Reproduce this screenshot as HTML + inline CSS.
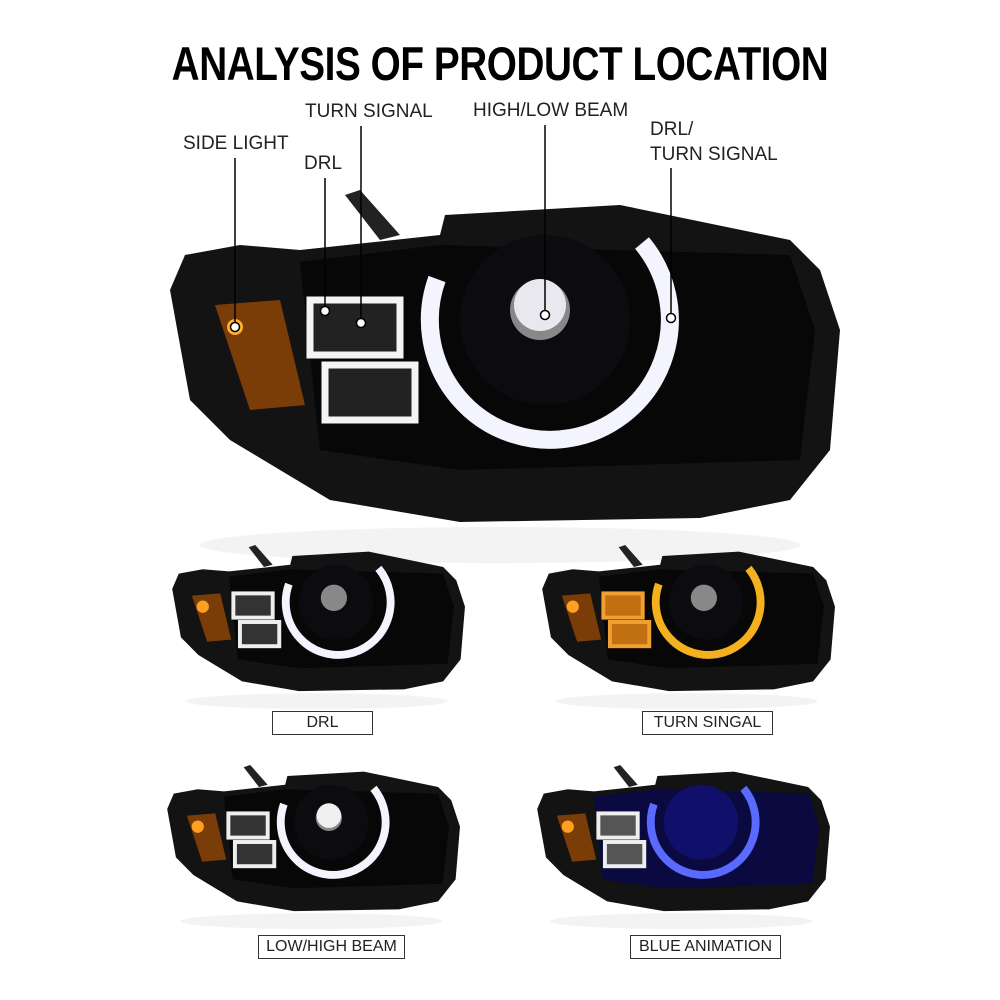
<!DOCTYPE html>
<html><head><meta charset="utf-8"><style>
html,body{margin:0;padding:0;background:#fff;}
body{width:1000px;height:1000px;position:relative;overflow:hidden;font-family:"Liberation Sans",sans-serif;}
.t{position:absolute;white-space:nowrap;}
.lab{position:absolute;font-size:19px;color:#222;white-space:nowrap;letter-spacing:0;}
.box{position:absolute;border:1px solid #333;font-size:16px;color:#222;text-align:center;line-height:22px;height:22px;background:#fff;}
</style></head><body>
<div class="t" style="left:0;width:1000px;text-align:center;top:38px;font-size:45px;font-weight:bold;color:#000;letter-spacing:-0.5px;transform:scale(0.86,1.05)">ANALYSIS OF PRODUCT LOCATION</div>
<div class="lab" style="left:183px;top:133px">SIDE LIGHT</div>
<div class="lab" style="left:305px;top:101px">TURN SIGNAL</div>
<div class="lab" style="left:304px;top:153px">DRL</div>
<div class="lab" style="left:473px;top:100px">HIGH/LOW BEAM</div>
<div class="lab" style="left:650px;top:117px;line-height:25px">DRL/<br>TURN SIGNAL</div>

<svg width="1000" height="1000" style="position:absolute;left:0;top:0">
<defs>
<g id="hl">
<ellipse cx="500" cy="545" rx="300" ry="18" fill="#f3f3f3"/>
<path d="M345,195 L360,190 L400,235 L380,240 Z" fill="#222"/>
<path d="M170,290 L185,255 L240,245 L300,250 L440,235 L445,215 L620,205 L790,240 L820,270 L840,330 L830,450 L790,500 L700,518 L460,522 L330,500 L280,470 L230,440 L190,400 Z" fill="#131313"/>
<path d="M300,262 L440,245 L790,255 L815,330 L800,460 L460,470 L320,450 Z" fill="#070707"/>
<path d="M215,305 L280,300 L305,405 L250,410 Z" fill="#7a3d08"/>
<circle cx="545" cy="320" r="85" fill="#0c0c10"/>
<circle cx="540" cy="310" r="30" fill="#888"/>
</g>
</defs>

<use href="#hl"/>
<circle cx="540" cy="305" r="26" fill="#e8e8ee"/>
<path d="M642,243 A120,120 0 1 1 437,279" fill="none" stroke="#f4f4ff" stroke-width="18"/>
<rect x="310" y="300" width="90" height="55" fill="#222" stroke="#f4f4f4" stroke-width="7"/>
<rect x="325" y="365" width="90" height="55" fill="#222" stroke="#f4f4f4" stroke-width="7"/>
<circle cx="235" cy="327" r="8" fill="#ffb030"/>
<g stroke="#000" stroke-width="1.5">
<line x1="235" y1="158" x2="235" y2="327"/>
<line x1="325" y1="178" x2="325" y2="311"/>
<line x1="361" y1="126" x2="361" y2="323"/>
<line x1="545" y1="125" x2="545" y2="315"/>
<line x1="671" y1="168" x2="671" y2="318"/>
</g>
<g fill="#fff" stroke="#000" stroke-width="1.5">
<circle cx="235" cy="327" r="4.5"/><circle cx="325" cy="311" r="4.5"/><circle cx="361" cy="323" r="4.5"/><circle cx="545" cy="315" r="4.5"/><circle cx="671" cy="318" r="4.5"/>
</g>

<g transform="translate(97.9,461.4) scale(0.437,0.44)">
<use href="#hl"/>
<path d="M642,243 A120,120 0 1 1 437,279" fill="none" stroke="#f4f4ff" stroke-width="18"/>
<rect x="310" y="300" width="90" height="55" fill="#333" stroke="#eee" stroke-width="9"/>
<rect x="325" y="365" width="90" height="55" fill="#333" stroke="#eee" stroke-width="9"/>
<circle cx="240" cy="330" r="14" fill="#ffa020"/>
</g>
<g transform="translate(467.9,461.4) scale(0.437,0.44)">
<use href="#hl"/>
<path d="M642,243 A120,120 0 1 1 437,279" fill="none" stroke="#f5b020" stroke-width="18"/>
<rect x="310" y="300" width="90" height="55" fill="#c07010" stroke="#f0a030" stroke-width="9"/>
<rect x="325" y="365" width="90" height="55" fill="#c07010" stroke="#f0a030" stroke-width="9"/>
<circle cx="240" cy="330" r="14" fill="#ffa020"/>
</g>
<g transform="translate(92.9,681.4) scale(0.437,0.44)">
<use href="#hl"/>
<circle cx="540" cy="305" r="28" fill="#f0f0f0"/>
<path d="M642,243 A120,120 0 1 1 437,279" fill="none" stroke="#f4f4ff" stroke-width="18"/>
<rect x="310" y="300" width="90" height="55" fill="#333" stroke="#eee" stroke-width="9"/>
<rect x="325" y="365" width="90" height="55" fill="#333" stroke="#eee" stroke-width="9"/>
<circle cx="240" cy="330" r="14" fill="#ffa020"/>
</g>
<g transform="translate(462.9,681.4) scale(0.437,0.44)">
<use href="#hl"/>
<path d="M300,262 L440,245 L790,255 L815,330 L800,460 L460,470 L320,450 Z" fill="#0a0a40"/>
<circle cx="545" cy="320" r="85" fill="#10106a"/>
<path d="M642,243 A120,120 0 1 1 437,279" fill="none" stroke="#5a6aff" stroke-width="18"/>
<rect x="310" y="300" width="90" height="55" fill="#555" stroke="#eee" stroke-width="9"/>
<rect x="325" y="365" width="90" height="55" fill="#555" stroke="#eee" stroke-width="9"/>
<circle cx="240" cy="330" r="14" fill="#ffa020"/>
</g>
</svg>

<div class="box" style="left:272px;top:711px;width:99px">DRL</div>
<div class="box" style="left:642px;top:711px;width:129px">TURN SINGAL</div>
<div class="box" style="left:258px;top:935px;width:145px">LOW/HIGH BEAM</div>
<div class="box" style="left:630px;top:935px;width:149px">BLUE ANIMATION</div>
</body></html>
